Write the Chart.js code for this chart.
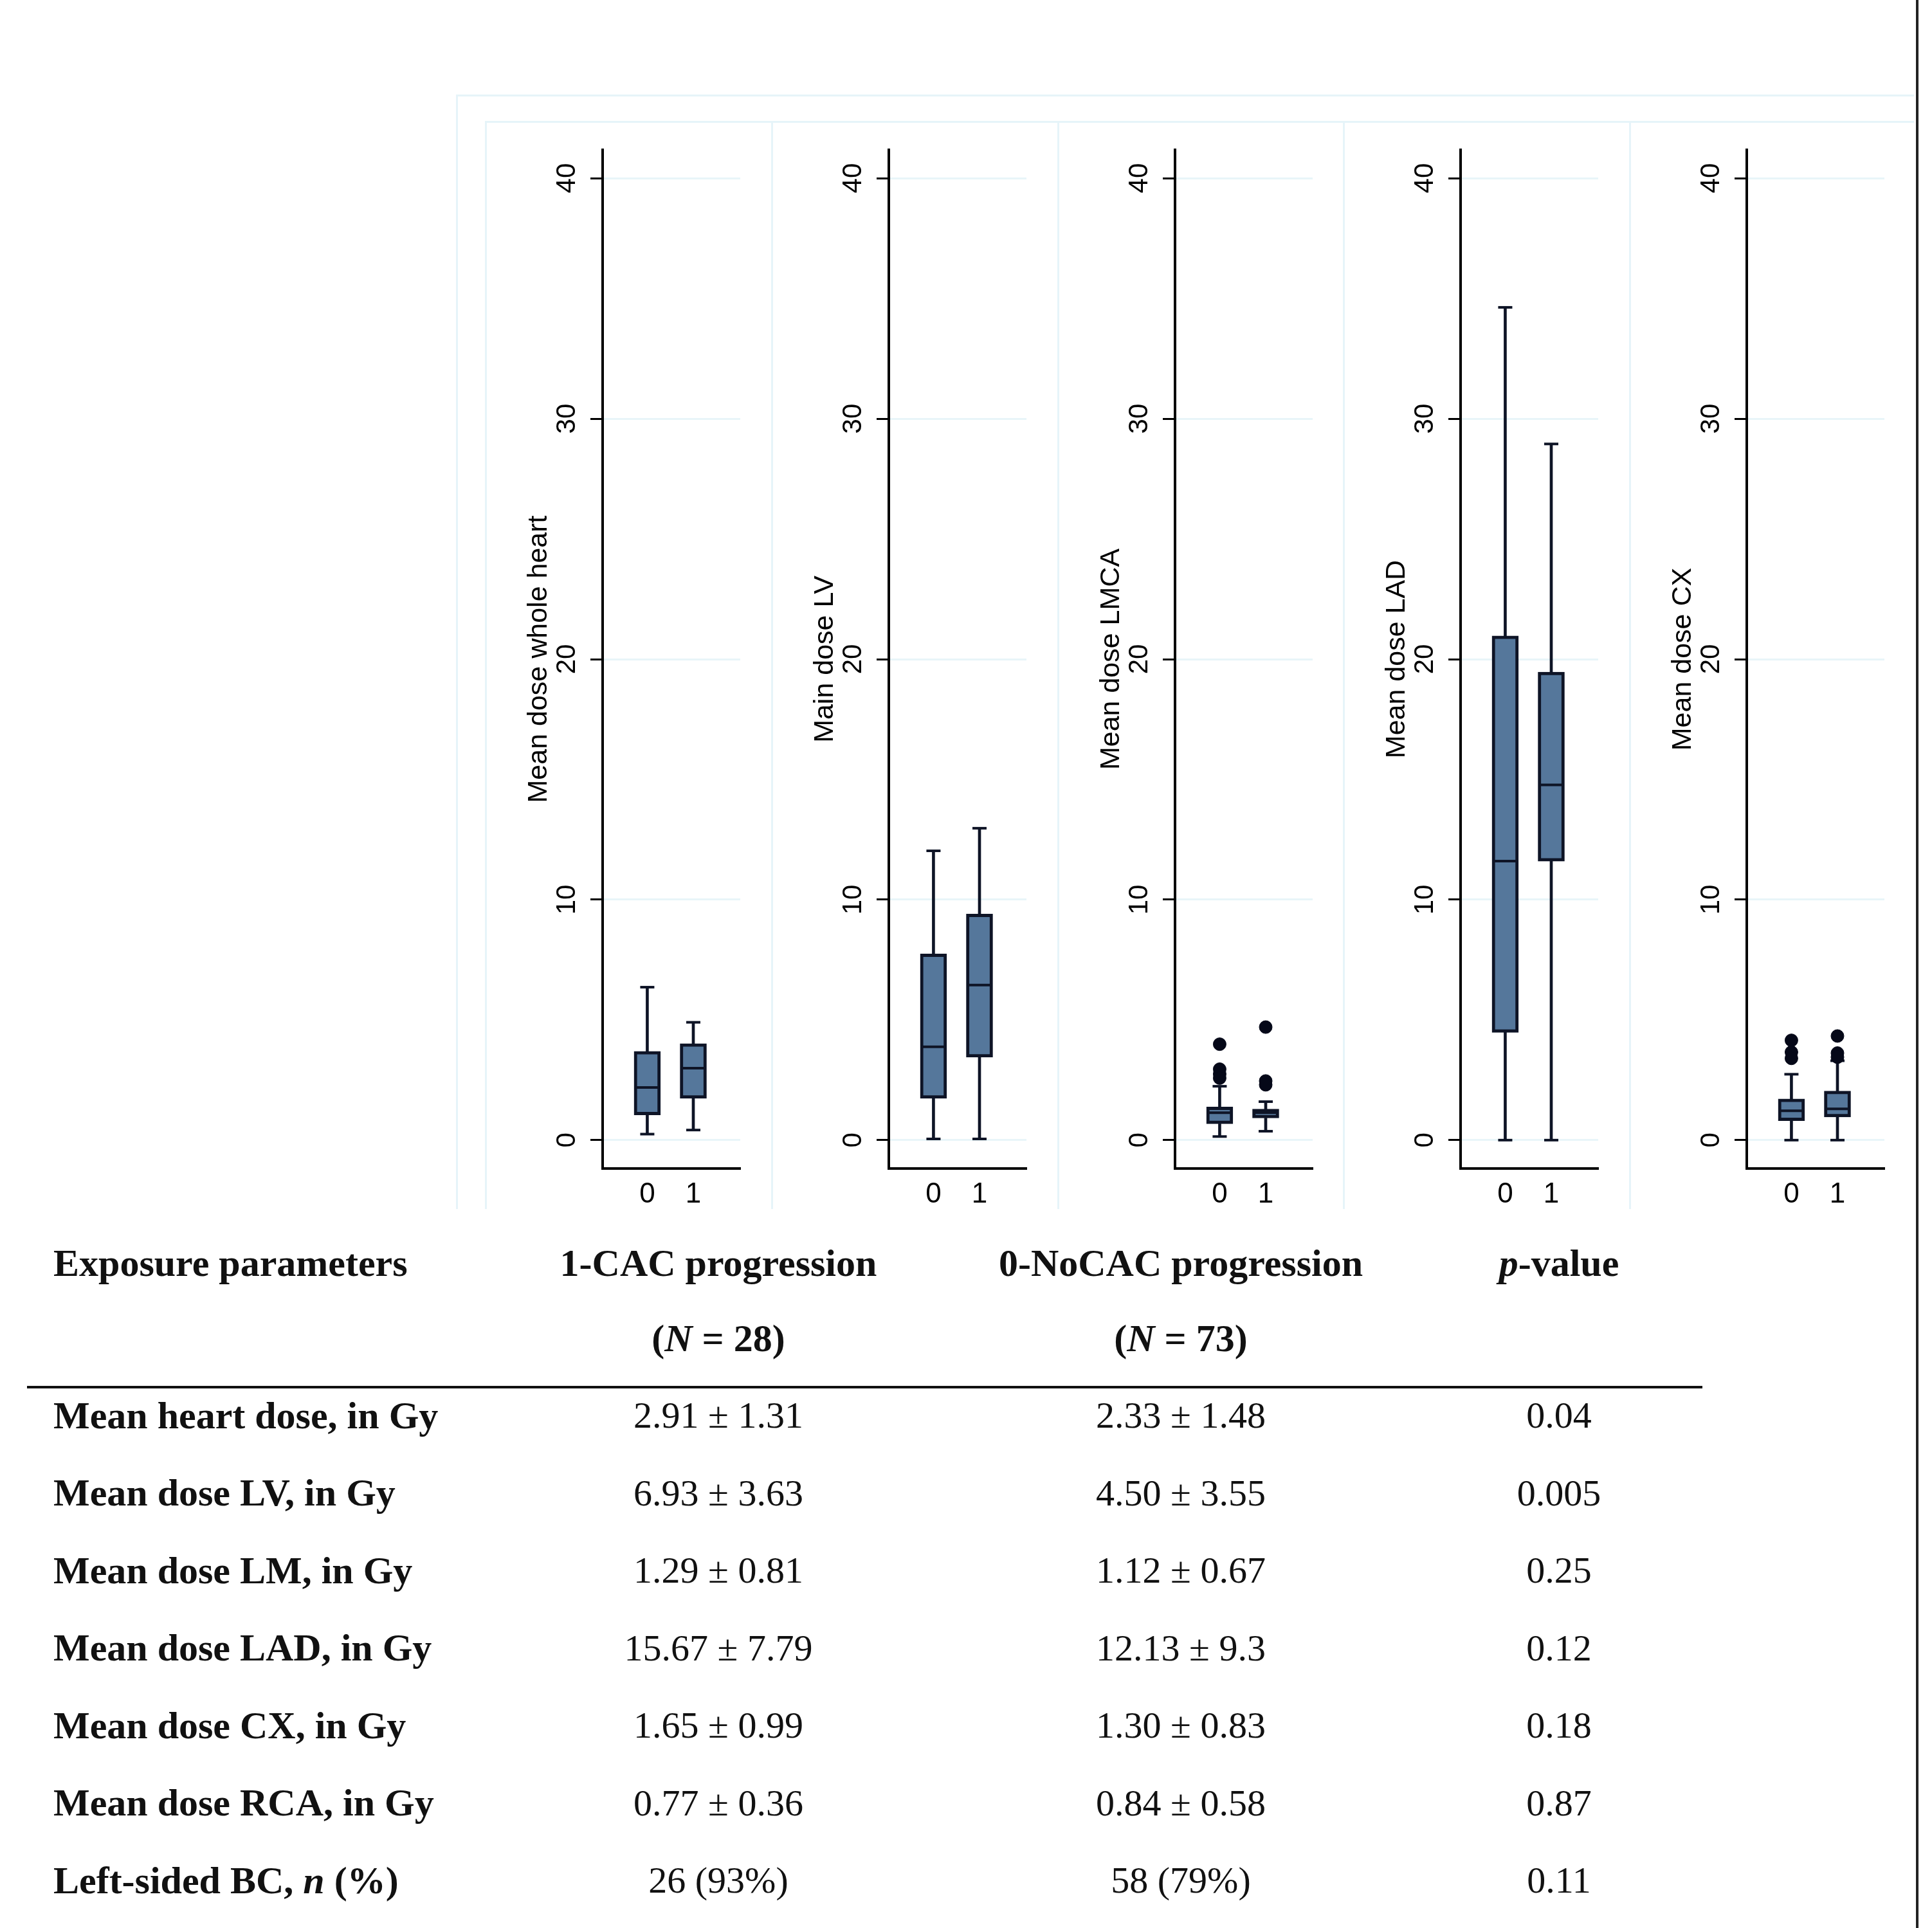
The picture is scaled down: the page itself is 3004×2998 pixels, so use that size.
<!DOCTYPE html>
<html>
<head>
<meta charset="utf-8">
<script src="https://cdn.jsdelivr.net/npm/chart.js@4.4.1/dist/chart.umd.min.js"></script>
<style>
  html, body { margin: 0; padding: 0; background: #fff; }
  #page { position: relative; width: 3004px; height: 2998px; overflow: hidden; background: #fff; }
  #page canvas { position: absolute; }
  .frame { position: absolute; background: #e6f4f9; }
  .tx { position: absolute; white-space: nowrap; color: #111;
        font-family: 'Liberation Serif', 'Times New Roman', serif; }
</style>
</head>
<body>
<div id="page"></div>
<script>
(function() {
  'use strict';

  /* ---- box plot data, one entry per panel: [group 0, group 1] ---- */
  var PANEL_TITLES = ['Mean dose whole heart', 'Main dose LV', 'Mean dose LMCA', 'Mean dose LAD', 'Mean dose CX'];
  var GROUPS  = [0, 1];
  var Y_TICKS = [0, 10, 20, 30, 40];

  var WHISKER_LO = [[0.25, 0.42], [0.05, 0.05], [0.15, 0.37], [0.0, 0.0], [0.0, 0.0]];
  var Q1         = [[1.05, 1.74], [1.74, 3.45], [0.68, 0.92], [4.48, 11.60], [0.81, 0.96]];
  var MEDIAN     = [[2.19, 2.99], [3.88, 6.45], [1.14, 1.14], [11.60, 14.77], [1.22, 1.30]];
  var Q3         = [[3.69, 4.01], [7.74, 9.40], [1.38, 1.29], [20.97, 19.46], [1.71, 2.04]];
  var WHISKER_HI = [[6.36, 4.90], [12.03, 12.97], [2.24, 1.60], [34.63, 28.95], [2.74, 3.30]];
  var OUTLIERS   = [
    [[], []],
    [[], []],
    [[3.99, 2.95, 2.75, 2.58], [4.70, 2.46, 2.30]],
    [[], []],
    [[4.15, 3.66, 3.40], [4.33, 3.62, 3.45]]
  ];

  /* ---- table ---- */
  var HEAD_1 = ['Exposure parameters', '1-CAC progression', '0-NoCAC progression', '<i>p</i>-value'];
  var HEAD_2 = ['', '(<i>N</i> = 28)', '(<i>N</i> = 73)', ''];
  var ROW_LABELS = ['Mean heart dose, in Gy', 'Mean dose LV, in Gy', 'Mean dose LM, in Gy',
                    'Mean dose LAD, in Gy', 'Mean dose CX, in Gy', 'Mean dose RCA, in Gy',
                    'Left-sided BC, <i>n</i> (%)'];
  var CAC_VALUES   = ['2.91 ± 1.31', '6.93 ± 3.63', '1.29 ± 0.81', '15.67 ± 7.79', '1.65 ± 0.99', '0.77 ± 0.36', '26 (93%)'];
  var NOCAC_VALUES = ['2.33 ± 1.48', '4.50 ± 3.55', '1.12 ± 0.67', '12.13 ± 9.3', '1.30 ± 0.83', '0.84 ± 0.58', '58 (79%)'];
  var P_VALUES     = ['0.04', '0.005', '0.25', '0.12', '0.18', '0.87', '0.11'];

  var page = document.getElementById('page');

  var FONT_SANS = "'Liberation Sans', Arial, sans-serif";
  var BOX_FILL  = '#55779b';
  var INK       = '#0e1426';
  var GRID      = '#e8f5f9';

  var AXIS_X0   = 937;      /* y axis of first panel */
  var PANEL_DX  = 444.75;
  var PLOT_W    = 217;
  var LEFT_W    = 160;
  var CANVAS_TOP = 180;

  function rect(x, y, w, h, color) {
    var d = document.createElement('div');
    d.className = 'frame';
    d.style.left = x + 'px'; d.style.top = y + 'px';
    d.style.width = w + 'px'; d.style.height = h + 'px';
    if (color) d.style.background = color;
    page.appendChild(d);
  }

  /* faint graph-region frames */
  rect(709, 147, 2976 - 709, 3);
  rect(709, 147, 3, 1880 - 147);
  rect(754, 188, 2976 - 754, 3);
  for (var k = 0; k < 5; k++) rect(Math.round(754 + k * PANEL_DX), 188, 3, 1880 - 188);

  function makePanel(p) {
    var axisX = AXIS_X0 + p * PANEL_DX;
    var cv = document.createElement('canvas');
    cv.width = LEFT_W + PLOT_W + 20;
    cv.height = 1720;
    cv.style.left = Math.round(axisX - LEFT_W) + 'px';
    cv.style.top = CANVAS_TOP + 'px';
    page.appendChild(cv);

    var boxes = [], lowW = [], highW = [], caps = [], meds = [], outs = [];
    GROUPS.forEach(function(g, i) {
      boxes.push({ x: g, y: [Q1[p][i], Q3[p][i]] });
      lowW.push({ x: g, y: [WHISKER_LO[p][i], Q1[p][i]] });
      highW.push({ x: g, y: [Q3[p][i], WHISKER_HI[p][i]] });
      caps.push({ x: g, y: WHISKER_LO[p][i] }, { x: g, y: WHISKER_HI[p][i] });
      meds.push({ x: g, y: MEDIAN[p][i] });
      OUTLIERS[p][i].forEach(function(v) { outs.push({ x: g, y: v }); });
    });

    new Chart(cv, {
      type: 'bar',
      data: {
        datasets: [
          { data: lowW, backgroundColor: INK, borderWidth: 0, barThickness: 4, grouped: false, order: 5 },
          { data: highW, backgroundColor: INK, borderWidth: 0, barThickness: 4, grouped: false, order: 5 },
          { data: boxes, backgroundColor: BOX_FILL, borderColor: INK, borderWidth: 5,
            borderSkipped: false, barThickness: 41, grouped: false, order: 3 },
          { type: 'scatter', data: meds, pointStyle: 'line', pointRadius: 19,
            borderColor: INK, borderWidth: 4, order: 1 },
          { type: 'scatter', data: caps, pointStyle: 'line', pointRadius: 11,
            borderColor: INK, borderWidth: 4, order: 1 },
          { type: 'scatter', data: outs, pointStyle: 'circle', pointRadius: 10,
            backgroundColor: '#050818', borderColor: '#050818', borderWidth: 1, order: 0 }
        ]
      },
      options: {
        responsive: false,
        devicePixelRatio: 1,
        animation: false,
        events: [],
        layout: { padding: { top: 53, right: 20, bottom: 0, left: 0 } },
        plugins: { legend: { display: false }, tooltip: { enabled: false } },
        scales: {
          x: {
            type: 'linear', min: -0.97, max: 2.02, offset: false,
            afterBuildTicks: function(s) { s.ticks = GROUPS.map(function(v) { return { value: v }; }); },
            afterFit: function(s) { s.height = 83; },
            grid: { display: false, drawTicks: false, offset: false },
            border: { display: true, color: '#000', width: 4 },
            ticks: { color: '#000', font: { family: FONT_SANS, size: 44 }, padding: 14,
                     autoSkip: false, maxRotation: 0,
                     callback: function(v) { return String(v); } }
          },
          y: {
            type: 'linear', min: -1.18, max: 41.18,
            afterBuildTicks: function(s) { s.ticks = Y_TICKS.map(function(v) { return { value: v }; }); },
            afterFit: function(s) { s.width = LEFT_W; },
            grid: { color: GRID, lineWidth: 3, drawTicks: true, tickLength: 19,
                    tickColor: '#000', tickWidth: 3 },
            border: { display: true, color: '#000', width: 4 },
            ticks: { color: '#000', font: { family: FONT_SANS, size: 42 }, padding: 12,
                     minRotation: 90, maxRotation: 90, crossAlign: 'center', autoSkip: false },
            title: { display: true, text: PANEL_TITLES[p], color: '#000',
                     font: { family: FONT_SANS, size: 43 }, padding: { top: 35, bottom: 0 } }
          }
        }
      }
    });
  }

  for (var p = 0; p < PANEL_TITLES.length; p++) makePanel(p);

  /* right-hand page edge */
  rect(2979, 0, 4, 2998, '#222');

  /* ---- table ---- */
  var COL_X = [83, 1117, 1836, 2424];

  function text(html, x, baseline, size, bold, center) {
    var d = document.createElement('div');
    d.className = 'tx';
    d.innerHTML = html;
    d.style.fontSize = size + 'px';
    d.style.lineHeight = size + 'px';
    d.style.fontWeight = bold ? 'bold' : 'normal';
    d.style.top = Math.round(baseline - 0.8375 * size) + 'px';
    if (center) {
      d.style.left = (x - 600) + 'px';
      d.style.width = '1200px';
      d.style.textAlign = 'center';
    } else {
      d.style.left = x + 'px';
    }
    page.appendChild(d);
  }

  HEAD_1.forEach(function(h, i) { text(h, COL_X[i], 1984, 60, true, i > 0); });
  HEAD_2.forEach(function(h, i) { if (h) text(h, COL_X[i], 2101, 60, true, i > 0); });

  rect(42, 2155, 2647 - 42, 4, '#111');

  ROW_LABELS.forEach(function(lbl, r) {
    var base = 2221 + r * 120.5;
    text(lbl, COL_X[0], base, 60, true, false);
    text(CAC_VALUES[r], COL_X[1], base, 58, false, true);
    text(NOCAC_VALUES[r], COL_X[2], base, 58, false, true);
    text(P_VALUES[r], COL_X[3], base, 58, false, true);
  });
})();
</script>
</body>
</html>
